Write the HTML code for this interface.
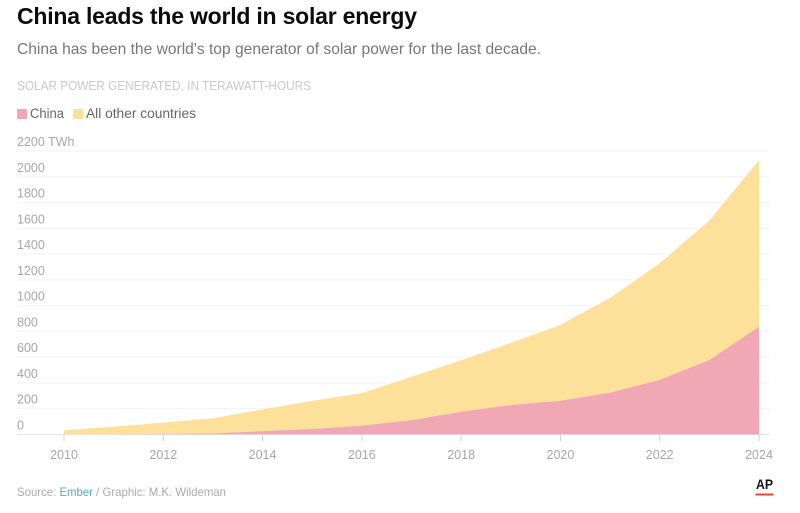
<!DOCTYPE html>
<html lang="en">
<head>
<meta charset="utf-8">
<title>China leads the world in solar energy</title>
<style>
html,body{margin:0;padding:0;background:#fff;}
body{width:800px;height:513px;overflow:hidden;font-family:"Liberation Sans",sans-serif;}
svg{display:block;}
text{font-family:"Liberation Sans",sans-serif;}
</style>
</head>
<body>
<svg id="chart" width="800" height="513" viewBox="0 0 800 513" xmlns="http://www.w3.org/2000/svg">
  <rect width="800" height="513" fill="#ffffff"/>
  <text x="17" y="24" font-size="23" font-weight="700" fill="#0c0c0c" textLength="400" lengthAdjust="spacing">China leads the world in solar energy</text>
  <text x="17" y="54" font-size="16" fill="#777777" textLength="524" lengthAdjust="spacingAndGlyphs">China has been the world's top generator of solar power for the last decade.</text>
  <text x="17" y="90" font-size="12.5" fill="#c9c9c9" textLength="294" lengthAdjust="spacingAndGlyphs">SOLAR POWER GENERATED, IN TERAWATT-HOURS</text>
  <g>
    <g>
      <rect x="17" y="109" width="10" height="10" fill="#f0a8b4"/>
      <text x="30" y="118" font-size="14" fill="#666666" textLength="34" lengthAdjust="spacingAndGlyphs">China</text>
    </g>
    <g>
      <rect x="73" y="109" width="10" height="10" fill="#fde09a"/>
      <text x="86" y="118" font-size="14" fill="#666666" textLength="110" lengthAdjust="spacingAndGlyphs">All other countries</text>
    </g>
  </g>
  <g id="grid"></g>
  <g id="areas"></g>
  <g id="yaxis"></g>
  <g id="xaxis"></g>
  <text x="17" y="496" font-size="12" fill="#aaaaaa" textLength="209" lengthAdjust="spacingAndGlyphs">Source: <tspan fill="#5ba9c4">Ember</tspan> / Graphic: M.K. Wildeman</text>
  <g>
    <text x="756" y="489" font-size="14" font-weight="700" fill="#111111" textLength="17" lengthAdjust="spacingAndGlyphs">AP</text>
    <rect x="755.5" y="493.5" width="18" height="2" fill="#e0483a"/>
  </g>
</svg>
<script>
var years = [2010,2011,2012,2013,2014,2015,2016,2017,2018,2019,2020,2021,2022,2023,2024];
var china = [0,0,3,8,25,42,68,111,176,228,261,324,423,578,836];
var otherCountries = [32,60,88,117,169,218,252,337,400,482,589,736,905,1082,1294];
var yTicks = [0,200,400,600,800,1000,1200,1400,1600,1800,2000,2200];
var xTicks = [2010,2012,2014,2016,2018,2020,2022,2024];

var NS = 'http://www.w3.org/2000/svg';
function xScale(year){ return 64 + (year - 2010) * (759 - 64) / 14; }
function yScale(v){ return 434.4 - v * (434.4 - 151) / 2200; }
function make(parent, tag, attrs){
  var el = document.createElementNS(NS, tag);
  for (var k in attrs) el.setAttribute(k, attrs[k]);
  parent.appendChild(el);
  return el;
}
var gridG = document.getElementById('grid');
var yG = document.getElementById('yaxis');
var xG = document.getElementById('xaxis');
var areasG = document.getElementById('areas');

yTicks.forEach(function(v){
  var y = yScale(v);
  var line = make(gridG, 'line', {x1:17, x2:770, y1:y, y2:y, stroke: v === 0 ? '#e2e2e2' : '#f3f3f3', 'stroke-width':1});
  
  
  var t = make(yG, 'text', {x:17, y:y - 5, 'font-size':12.5, fill:'#a6a6a6'});
  
  
  t.textContent = v === 2200 ? '2200 TWh' : String(v);
});

function areaPath(lower, upper){
  var d = '';
  years.forEach(function(yr, i){
    d += (i ? 'L' : 'M') + xScale(yr).toFixed(2) + ' ' + yScale(upper[i]).toFixed(2);
  });
  for (var i = years.length - 1; i >= 0; i--) {
    d += 'L' + xScale(years[i]).toFixed(2) + ' ' + yScale(lower[i]).toFixed(2);
  }
  return d + 'Z';
}
var zeros = years.map(function(){ return 0; });
var totals = years.map(function(_, i){ return china[i] + otherCountries[i]; });

var otherArea = make(areasG, 'path', {d: areaPath(china, totals), fill:'#fde09a'});


var chinaArea = make(areasG, 'path', {d: areaPath(zeros, china), fill:'#f0a8b4'});



xTicks.forEach(function(yr){
  var x = xScale(yr);
  var tick = make(xG, 'line', {x1:x, x2:x, y1:434.4, y2:441, stroke:'#d0d0d0', 'stroke-width':1});
  
  
  var t = make(xG, 'text', {x:x, y:459, 'font-size':12.5, fill:'#a6a6a6', 'text-anchor':'middle'});
  
  
  t.textContent = String(yr);
});
</script>
</body>
</html>
